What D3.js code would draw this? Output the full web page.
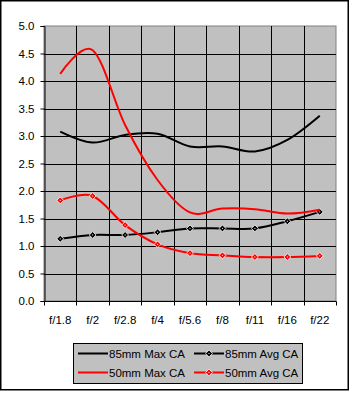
<!DOCTYPE html>
<html>
<head>
<meta charset="utf-8">
<script src="https://cdn.jsdelivr.net/npm/d3@7"></script>
<style>
  body { margin: 0; background: #fff; }
  text { font-family: "Liberation Sans", Arial, sans-serif; font-size: 11.5px; fill: #000; }
</style>
</head>
<body>
<svg id="chart" width="351" height="393"></svg>
<script>
/* ======================= DATA ======================== */
const stops = ["f/1.8", "f/2", "f/2.8", "f/4", "f/5.6", "f/8", "f/11", "f/16", "f/22"];
const yTicks = [0, 0.5, 1, 1.5, 2, 2.5, 3, 3.5, 4, 4.5, 5];

const max85 = [3.08, 2.88, 3.02, 3.04, 2.81, 2.81, 2.72, 2.93, 3.37];
const avg85 = [1.13, 1.20, 1.20, 1.25, 1.32, 1.32, 1.32, 1.45, 1.62];
const max50 = [4.13, 4.56, 3.20, 2.20, 1.61, 1.68, 1.67, 1.59, 1.66];
const avg50 = [1.83, 1.91, 1.38, 1.03, 0.87, 0.83, 0.80, 0.80, 0.82];

const series = [
    { name: "85mm Max CA", values: max85, color: "#000", marker: false },
    { name: "85mm Avg CA", values: avg85, color: "#000", marker: true },
    { name: "50mm Max CA", values: max50, color: "#ff0000", marker: false },
    { name: "50mm Avg CA", values: avg50, color: "#ff0000", marker: true }
];

/* ======================= LAYOUT ====================== */
const svg = d3.select("#chart");
const plot = { left: 44, right: 336, top: 26, bottom: 301 };

// outer frame
svg.append("rect")
   .attr("x", 0.75).attr("y", 0.75)
   .attr("width", 347.5).attr("height", 389)
   .attr("fill", "#fff")
   .attr("stroke", "#000")
   .attr("stroke-width", 1.5);

const x = d3.scaleBand()
            .domain(stops)
            .range([plot.left, plot.right]);
const y = d3.scaleLinear()
            .domain([0, 5])
            .range([plot.bottom, plot.top]);

// plot background
svg.append("rect")
   .attr("x", plot.left).attr("y", plot.top)
   .attr("width", plot.right - plot.left)
   .attr("height", plot.bottom - plot.top)
   .attr("fill", "#c0c0c0")
   .attr("stroke", "#808080")
   .attr("stroke-width", 1);

// grid
const grid = svg.append("g").attr("stroke", "#000").attr("stroke-width", 1);
grid.selectAll("line.h")
    .data(yTicks.filter(d => d > 0 && d < 5))
    .join("line")
    .attr("class", "h")
    .attr("x1", plot.left).attr("x2", plot.right)
    .attr("y1", d => Math.round(y(d)) + 0.5)
    .attr("y2", d => Math.round(y(d)) + 0.5);
grid.selectAll("line.v")
    .data(stops.slice(1))
    .join("line")
    .attr("class", "v")
    .attr("x1", d => Math.round(x(d)) + 0.5)
    .attr("x2", d => Math.round(x(d)) + 0.5)
    .attr("y1", plot.top).attr("y2", plot.bottom);

// y axis
const yAxis = svg.append("g")
                 .attr("transform", `translate(${plot.left + 0.5},0)`)
                 .call(d3.axisLeft(y).tickValues(yTicks).tickFormat(d3.format(".1f")).tickSize(4).tickPadding(6));
yAxis.select(".domain").attr("stroke", "#000");
yAxis.selectAll(".tick text").style("font-size", "11.5px").attr("fill", "#000");

// x axis (ticks at band boundaries)
const xAxisG = svg.append("g").attr("transform", `translate(0,${plot.bottom + 0.5})`);
xAxisG.append("line")
      .attr("x1", plot.left).attr("x2", plot.right + 0.5)
      .attr("stroke", "#000");
xAxisG.selectAll("line.tk")
      .data(stops.concat(["end"]))
      .join("line")
      .attr("class", "tk")
      .attr("x1", (d, i) => Math.round(plot.left + i * x.bandwidth()) + 0.5)
      .attr("x2", (d, i) => Math.round(plot.left + i * x.bandwidth()) + 0.5)
      .attr("y1", 0).attr("y2", 4)
      .attr("stroke", "#000");
xAxisG.selectAll("text")
      .data(stops)
      .join("text")
      .attr("x", d => x(d) + x.bandwidth() / 2)
      .attr("y", 22)
      .attr("text-anchor", "middle")
      .text(d => d);

/* ======================= SERIES ====================== */
const line = d3.line()
               .x((d, i) => x(stops[i]) + x.bandwidth() / 2)
               .y(d => y(d))
               .curve(d3.curveCardinal.tension(0));

const diamond = d3.symbol().type(d3.symbolDiamond2).size(30);

function drawMarker(sel, color) {
    sel.append("path")
       .attr("d", diamond)
       .attr("fill", color)
       .attr("stroke", "#fff")
       .attr("stroke-width", 0.8);
    sel.append("rect")
       .attr("x", -0.5).attr("y", -0.5)
       .attr("width", 1).attr("height", 1)
       .attr("fill", "#fff");
}

series.forEach(s => {
    svg.append("path")
       .attr("d", line(s.values))
       .attr("fill", "none")
       .attr("stroke", s.color)
       .attr("stroke-width", 2);
    if (s.marker) {
        svg.append("g").selectAll("g")
           .data(s.values)
           .join("g")
           .attr("transform", (d, i) => `translate(${x(stops[i]) + x.bandwidth() / 2},${y(d)})`)
           .each(function() { drawMarker(d3.select(this), s.color); });
    }
});

/* ======================= LEGEND ====================== */
const legend = svg.append("g");
legend.append("rect")
      .attr("x", 73.5).attr("y", 343.5)
      .attr("width", 229).attr("height", 40)
      .attr("fill", "#c0c0c0")
      .attr("stroke", "#000");

const cols = [78, 194];
const rows = [353.5, 372.5];
series.forEach((s, i) => {
    const lx = cols[i % 2], ly = rows[Math.floor(i / 2)];
    const item = legend.append("g");
    item.append("line")
        .attr("x1", lx).attr("x2", lx + 30)
        .attr("y1", ly).attr("y2", ly)
        .attr("stroke", s.color)
        .attr("stroke-width", 2);
    if (s.marker) {
        drawMarker(item.append("g").attr("transform", `translate(${lx + 15},${ly})`), s.color);
    }
    item.append("text")
        .attr("x", lx + 31)
        .attr("y", ly + 4)
        .text(s.name);
});
</script>
</body>
</html>
